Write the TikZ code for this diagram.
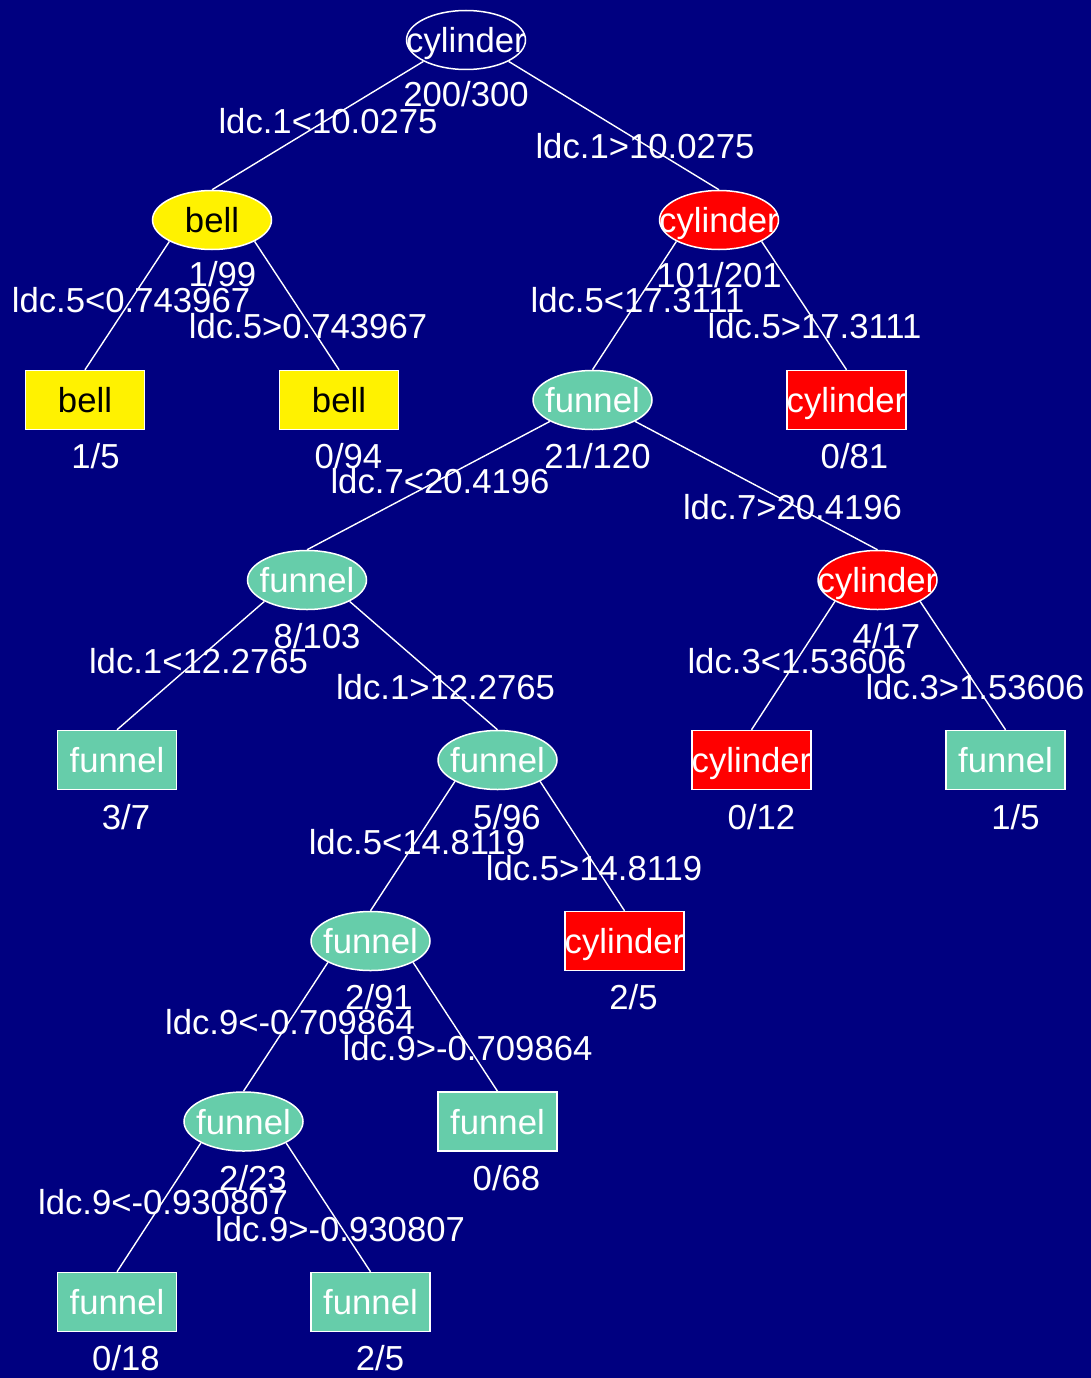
\documentclass[tikz,border=0pt]{standalone}
\usepackage{fontspec}
\setmainfont{Liberation Sans}
\usetikzlibrary{shapes.geometric}
\definecolor{navybg}{RGB}{0,0,128}
\definecolor{aqua}{RGB}{102,205,170}
\begin{document}
\begin{tikzpicture}[x=1pt,y=-1pt,
  ell/.style={ellipse, draw=white, line width=1.5pt, minimum width=119pt, minimum height=59pt, inner sep=0pt},
  box/.style={rectangle, draw=white, line width=1.5pt, minimum width=119pt, minimum height=59pt, inner sep=0pt},
  txt/.style={font=\fontsize{34.7}{40}\selectfont, inner sep=0pt, text height=25pt, text depth=0pt, text=white},
  dark/.style={txt, text=black},
  conn/.style={draw=white, line width=1.4pt},
  sw/.style={shift={(-42.6,21.4)}},
  se/.style={shift={(42.6,21.4)}}]
\fill[navybg] (0,0) rectangle (1091,1378);
\useasboundingbox (0,0) rectangle (1091,1378);

% shapes
\node[ell, fill=navybg] (n1) at (466,40) {};
\node[ell, fill=yellow] (n2) at (212,220) {};
\node[ell, fill=red] (n3) at (719,220) {};
\node[box, fill=yellow] (n4) at (85,400) {};
\node[box, fill=yellow] (n5) at (339,400) {};
\node[ell, fill=aqua] (n6) at (592.5,400) {};
\node[box, fill=red] (n7) at (846.5,400) {};
\node[ell, fill=aqua] (n8) at (307,580) {};
\node[ell, fill=red] (n9) at (877.5,580) {};
\node[box, fill=aqua] (n10) at (117,760) {};
\node[ell, fill=aqua] (n11) at (497.5,760) {};
\node[box, fill=red] (n12) at (751.5,760) {};
\node[box, fill=aqua] (n13) at (1005.5,760) {};
\node[ell, fill=aqua] (n14) at (370.5,941) {};
\node[box, fill=red] (n15) at (624.5,941) {};
\node[ell, fill=aqua] (n16) at (243.5,1121.5) {};
\node[box, fill=aqua] (n17) at (497.5,1121.5) {};
\node[box, fill=aqua] (n18) at (117,1302) {};
\node[box, fill=aqua] (n19) at (370.5,1302) {};

% connectors
\draw[conn] ([sw]n1.center) -- (n2.north);
\draw[conn] ([se]n1.center) -- (n3.north);
\draw[conn] ([sw]n2.center) -- (n4.north);
\draw[conn] ([se]n2.center) -- (n5.north);
\draw[conn] ([sw]n3.center) -- (n6.north);
\draw[conn] ([se]n3.center) -- (n7.north);
\draw[conn] ([sw]n6.center) -- (n8.north);
\draw[conn] ([se]n6.center) -- (n9.north);
\draw[conn] ([sw]n8.center) -- (n10.north);
\draw[conn] ([se]n8.center) -- (n11.north);
\draw[conn] ([sw]n9.center) -- (n12.north);
\draw[conn] ([se]n9.center) -- (n13.north);
\draw[conn] ([sw]n11.center) -- (n14.north);
\draw[conn] ([se]n11.center) -- (n15.north);
\draw[conn] ([sw]n14.center) -- (n16.north);
\draw[conn] ([se]n14.center) -- (n17.north);
\draw[conn] ([sw]n16.center) -- (n18.north);
\draw[conn] ([se]n16.center) -- (n19.north);

% node texts
\node[txt] (t1) at (n1) {cylinder};
\node[dark] (t2) at (n2) {bell};
\node[txt] (t3) at (n3) {cylinder};
\node[dark] (t4) at (n4) {bell};
\node[dark] (t5) at (n5) {bell};
\node[txt] (t6) at (n6) {funnel};
\node[txt] (t7) at (n7) {cylinder};
\node[txt] (t8) at (n8) {funnel};
\node[txt] (t9) at (n9) {cylinder};
\node[txt] (t10) at (n10) {funnel};
\node[txt] (t11) at (n11) {funnel};
\node[txt] (t12) at (n12) {cylinder};
\node[txt] (t13) at (n13) {funnel};
\node[txt] (t14) at (n14) {funnel};
\node[txt] (t15) at (n15) {cylinder};
\node[txt] (t16) at (n16) {funnel};
\node[txt] (t17) at (n17) {funnel};
\node[txt] (t18) at (n18) {funnel};
\node[txt] (t19) at (n19) {funnel};

% counts
\node[txt] (c1) at (466,94) {200/300};
\node[txt] (c2) at (222.5,274) {1/99};
\node[txt] (c3) at (719,275) {101/201};
\node[txt] (c4) at (95.5,456) {1/5};
\node[txt] (c5) at (348.5,456) {0/94};
\node[txt] (c6) at (597.5,456) {21/120};
\node[txt] (c7) at (854.5,455.5) {0/81};
\node[txt] (c8) at (317,636) {8/103};
\node[txt] (c9) at (886.5,636) {4/17};
\node[txt] (c10) at (126,817) {3/7};
\node[txt] (c11) at (507,817) {5/96};
\node[txt] (c12) at (761.5,817) {0/12};
\node[txt] (c13) at (1015.5,817) {1/5};
\node[txt] (c14) at (379,997) {2/91};
\node[txt] (c15) at (633.5,997) {2/5};
\node[txt] (c16) at (253,1178) {2/23};
\node[txt] (c17) at (506.5,1178) {0/68};
\node[txt] (c18) at (126,1358) {0/18};
\node[txt] (c19) at (380,1358) {2/5};

% split labels
\node[txt] (e1) at (328,121) {ldc.1<10.0275};
\node[txt] (e2) at (645,146) {ldc.1>10.0275};
\node[txt] (e3) at (131,300) {ldc.5<0.743967};
\node[txt] (e4) at (308,325.5) {ldc.5>0.743967};
\node[txt] (e5) at (637.5,300) {ldc.5<17.3111};
\node[txt] (e6) at (814.5,325.5) {ldc.5>17.3111};
\node[txt] (e7) at (440,481) {ldc.7<20.4196};
\node[txt] (e8) at (792.5,506.5) {ldc.7>20.4196};
\node[txt] (e9) at (198.5,661) {ldc.1<12.2765};
\node[txt] (e10) at (445.5,687) {ldc.1>12.2765};
\node[txt] (e11) at (797,661) {ldc.3<1.53606};
\node[txt] (e12) at (975,687) {ldc.3>1.53606};
\node[txt] (e13) at (417,841.5) {ldc.5<14.8119};
\node[txt] (e14) at (594,868) {ldc.5>14.8119};
\node[txt] (e15) at (290,1021.5) {ldc.9<-0.709864};
\node[txt] (e16) at (467.5,1047.5) {ldc.9>-0.709864};
\node[txt] (e17) at (163,1202) {ldc.9<-0.930807};
\node[txt] (e18) at (340,1229) {ldc.9>-0.930807};
\end{tikzpicture}
\end{document}
